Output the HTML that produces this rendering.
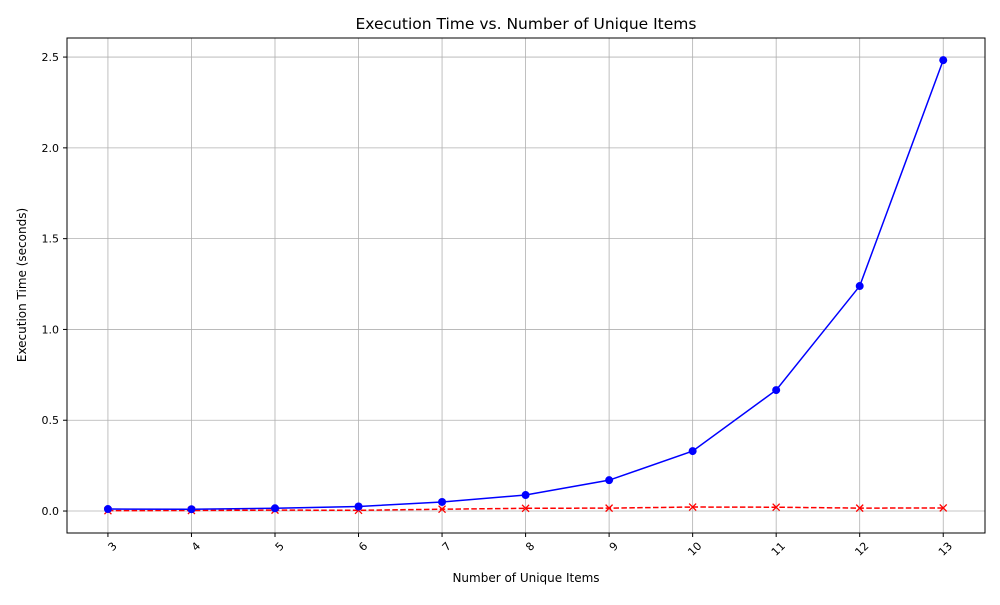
<!DOCTYPE html>
<html><head><meta charset="utf-8"><style>
body{margin:0;background:#fff;font-family:"Liberation Sans","DejaVu Sans",sans-serif}
svg text{font-family:"DejaVu Sans","Liberation Sans",sans-serif}
</style></head><body>
<svg id="chart" width="1000" height="600" xmlns="http://www.w3.org/2000/svg">
<rect width="1000" height="600" fill="#fff"/>
<g id="grid"></g>
<g id="series"></g>
<rect x="67" y="38" width="918" height="495" fill="none" stroke="#000" stroke-width="1"/>
<g id="axes"></g>
<text x="526" y="29" text-anchor="middle" font-size="15.5">Execution Time vs. Number of Unique Items</text>
<text x="526" y="582" text-anchor="middle" font-size="12">Number of Unique Items</text>
<text transform="translate(26,285) rotate(-90)" text-anchor="middle" font-size="12">Execution Time (seconds)</text>
</svg>
<script>
const categories=[3,4,5,6,7,8,9,10,11,12,13];
const blueValues=[0.011,0.010,0.015,0.025,0.050,0.088,0.170,0.330,0.666,1.239,2.483];
const redValues=[0.002,0.003,0.005,0.004,0.010,0.015,0.016,0.022,0.021,0.016,0.017];
const yTicks=[0,0.5,1.0,1.5,2.0,2.5];
const yTickLabels=["0.0","0.5","1.0","1.5","2.0","2.5"];
const L=67,R=985,T=38,B=533,xmin=2.51,xmax=13.5,ymin=-0.121,ymax=2.605;
const xs=v=>L+(v-xmin)/(xmax-xmin)*(R-L);
const ys=v=>B-(v-ymin)/(ymax-ymin)*(B-T);
const NS="http://www.w3.org/2000/svg";
function mk(tag,attrs,parent){const e=document.createElementNS(NS,tag);for(const k in attrs)e.setAttribute(k,attrs[k]);parent.appendChild(e);return e;}
const grid=document.getElementById('grid'),axes=document.getElementById('axes'),ser=document.getElementById('series');
categories.forEach(c=>{
 const x=xs(c);
 const g=mk('line',{x1:x,x2:x,y1:T,y2:B,stroke:'#b0b0b0','stroke-width':0.8},grid);
 
 
 const t=mk('line',{x1:x,x2:x,y1:B,y2:B+4,stroke:'#000'},axes);
 
 
 const ax=x+4,ay=B+8;
 const tx=mk('text',{x:ax,y:ay,'font-size':11,'text-anchor':'end','dominant-baseline':'hanging',transform:`rotate(-45 ${ax} ${ay})`},axes);
 tx.textContent=c;
 
 
});
yTicks.forEach((v,i)=>{
 const y=ys(v);
 const g=mk('line',{x1:L,x2:R,y1:y,y2:y,stroke:'#b0b0b0','stroke-width':0.8},grid);
 
 
 const t=mk('line',{x1:L-4,x2:L,y1:y,y2:y,stroke:'#000'},axes);
 
 
 const tx=mk('text',{x:L-8,y:y+4,'font-size':11,'text-anchor':'end'},axes);
 tx.textContent=yTickLabels[i];
 
 
});
const rp=categories.map((c,i)=>xs(c)+','+ys(redValues[i])).join(' ');
const rl=mk('polyline',{points:rp,fill:'none',stroke:'#ff0000','stroke-width':1.5,'stroke-dasharray':'5.5,2.4'},ser);


categories.forEach((c,i)=>{
 const x=xs(c),y=ys(redValues[i]);
 const m=mk('path',{d:`M${x-3.5},${y-3.5}L${x+3.5},${y+3.5}M${x-3.5},${y+3.5}L${x+3.5},${y-3.5}`,stroke:'#ff0000','stroke-width':1.3},ser);
 
 
});
const bp=categories.map((c,i)=>xs(c)+','+ys(blueValues[i])).join(' ');
const bl=mk('polyline',{points:bp,fill:'none',stroke:'#0000ff','stroke-width':1.5},ser);


categories.forEach((c,i)=>{
 const m=mk('circle',{cx:xs(c),cy:ys(blueValues[i]),r:4,fill:'#0000ff'},ser);
 
 
});
</script>
</body></html>
